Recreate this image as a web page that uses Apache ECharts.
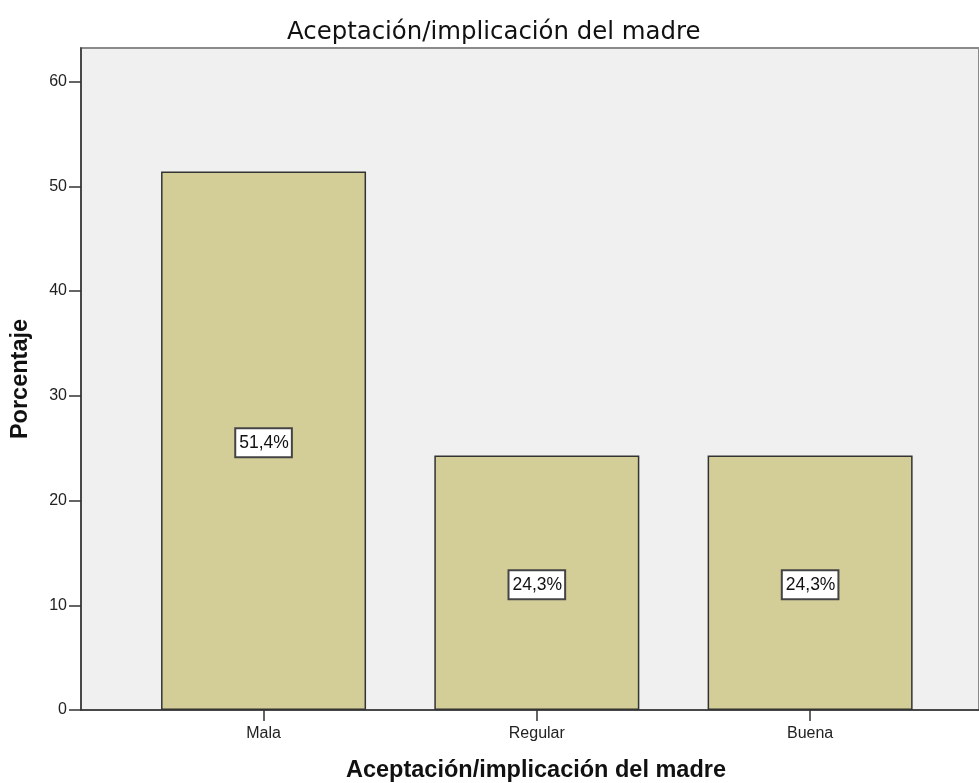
<!DOCTYPE html>
<html>
<head>
<meta charset="utf-8">
<script src="https://cdn.jsdelivr.net/npm/echarts@6/dist/echarts.min.js"></script>
<style>
html,body{margin:0;padding:0;background:#fff;}
#c{width:979px;height:783px;}
</style>
</head>
<body>
<div id="c"></div>
<script>
const categories = ['Mala', 'Regular', 'Buena'];
const values = [51.4, 24.3, 24.3];
const yTicks = [0, 10, 20, 30, 40, 50, 60];
const titleText = 'Aceptación/implicación del madre';
const xName = 'Aceptación/implicación del madre';
const yName = 'Porcentaje';

const font = '"Liberation Sans", Arial, sans-serif';
const titleFont = '"DejaVu Sans", sans-serif';
const chart = echarts.init(document.getElementById('c'));
const xPositions = categories.map((c, i) => i + 1);

chart.setOption({
  animation: false,
  backgroundColor: '#ffffff',
  title: {
    text: titleText,
    left: 282,
    top: 16,
    textStyle: { fontFamily: titleFont, fontSize: 24.4, fontWeight: 'normal', color: '#111' }
  },
  grid: {
    left: 81, right: 0, top: 48, bottom: 73,
    outerBoundsMode: 'none',
    containLabel: false,
    show: true, backgroundColor: '#f0f0f0', borderColor: '#8a8a8a', borderWidth: 2
  },
  xAxis: {
    type: 'value',
    min: 0.332, max: 3.618,
    name: xName,
    nameLocation: 'middle',
    nameGap: 49,
    nameTextStyle: { fontFamily: font, fontSize: 23.5, fontWeight: 'bold', color: '#111', padding: [0, 0, 0, 12] },
    axisLine: { show: true, lineStyle: { color: '#333', width: 1.5 } },
    axisTick: { show: true, length: 11, lineStyle: { color: '#333', width: 1.5 }, customValues: xPositions },
    axisLabel: {
      customValues: xPositions,
      formatter: v => categories[Math.round(v) - 1] || '',
      fontFamily: font, fontSize: 16, color: '#222', margin: 16
    },
    splitLine: { show: false }
  },
  yAxis: {
    type: 'value',
    min: 0, max: 63.2,
    name: yName,
    nameLocation: 'middle',
    nameGap: 48,
    nameTextStyle: { fontFamily: font, fontSize: 23.5, fontWeight: 'bold', color: '#111' },
    axisLine: { show: true, lineStyle: { color: '#333', width: 1.5 } },
    axisTick: { show: true, length: 12, lineStyle: { color: '#333', width: 1.5 }, customValues: yTicks },
    axisLabel: {
      customValues: yTicks,
      fontFamily: font, fontSize: 16, color: '#222', margin: 14
    },
    splitLine: { show: false }
  },
  series: [{
    type: 'bar',
    barWidth: 205,
    data: categories.map((c, i) => [xPositions[i], values[i]]),
    itemStyle: { color: '#d3ce98', borderColor: '#333', borderWidth: 1.5 },
    label: {
      show: true,
      position: 'inside',
      offset: [0, 2],
      formatter: p => p.value[1].toFixed(1).replace('.', ',') + '%',
      fontFamily: font, fontSize: 17.5, color: '#111',
      backgroundColor: '#ffffff',
      borderColor: '#444', borderWidth: 2,
      padding: [5, 2, 4, 3]
    }
  }]
});
</script>
</body>
</html>
